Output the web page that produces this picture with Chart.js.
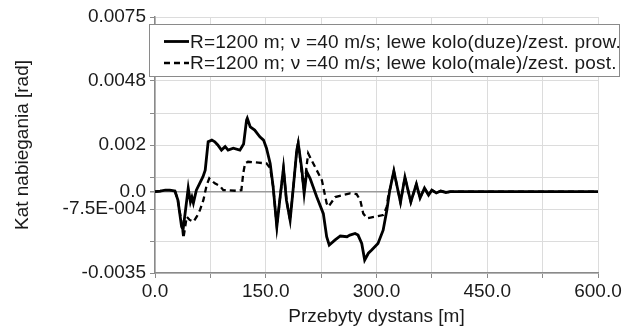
<!DOCTYPE html>
<html>
<head>
<meta charset="utf-8">
<script src="https://cdn.jsdelivr.net/npm/chart.js@4/dist/chart.umd.min.js"></script>
<style>
    html, body { margin: 0; padding: 0; background: #fff; }
    #wrap { width: 624px; height: 326px; }
</style>
</head>
<body>
<div id="wrap"><canvas id="chart" width="624" height="326"></canvas></div>
<script>
// data
x_solid = [0, 7, 14, 20, 27, 31, 36, 38, 43, 45, 48, 50, 52, 56, 65, 68, 72, 77, 81, 85,
    90, 95, 99, 106, 115, 120, 124, 125, 129, 135, 142, 147, 151, 156, 160, 162.5, 165, 169, 174, 178,
    183, 187, 192, 194, 199, 202, 205.5, 210, 219, 228, 232.5, 236, 244, 251, 260, 264, 271, 275, 280, 284,
    289, 293.5, 302, 309, 314, 318, 323.5, 332.5, 338.5, 346.5, 354, 359, 365, 370.5, 375, 381, 387, 394, 400, 600]
y_solid = [0, 0.00002, 0.00006, 0.00006, 0.00002, -0.00037, -0.00151, -0.00165, -0.00037, 0.00015,
    -0.00045, -0.00024, -0.00049, 0.00006, 0.00064, 0.00092, 0.00214, 0.00221, 0.00214, 0.00200,
    0.00178, 0.00193, 0.00178, 0.00186, 0.00178, 0.00204, 0.00307, 0.00315, 0.00278, 0.00264,
    0.00235, 0.00221, 0.00186, 0.00121, 0.00021, -0.00065, -0.00151, -0.00037, 0.00101, -0.00037,
    -0.00123, 0.00006, 0.00178, 0.00207, 0.00092, -0.00008, 0.00085, 0.00057, -0.00022, -0.00095,
    -0.00194, -0.00230, -0.00208, -0.00191, -0.00194, -0.00187, -0.00180, -0.00187, -0.00223, -0.00294,
    -0.00265, -0.00251, -0.00223, -0.00166, -0.00080, 0.00006, 0.00088, -0.00047, 0.00062, -0.00045,
    0.00032, -0.00028, 0.00015, -0.00015, 0.00006, -0.00006, 0.00002, -0.00004, 0, 0]

x_dashed = [0, 7, 14, 20, 27, 31, 36.5, 38.5, 43, 47, 52, 56.5, 61, 65.5, 70, 73.5,
    81, 88, 92.5, 99, 111, 117, 119.5, 122, 126, 140, 151, 156, 160, 162.5, 165, 169, 174, 178, 183, 187,
    192, 194, 199, 202, 205.5, 207.5, 212, 219, 226, 232.5, 235, 244, 255, 264, 273, 278, 282, 287, 298, 309,
    314, 316, 318, 323.5, 332.5, 338.5, 346.5, 354, 359, 365, 370.5, 375, 381, 387, 394, 400, 600]
y_dashed = [0, 0.00002, 0.00006, 0.00006, 0.00002, -0.00037,
    -0.00144, -0.00200, -0.00108, -0.00122, -0.00130, -0.00108, -0.00079, -0.00037, 0.00028, 0.00057,
    0.00035, 0.00024, 0.00006, 0.00006, 0.00003, 0.00006, 0.00078, 0.00121, 0.00128, 0.00124,
    0.00121, 0.00100, 0.00021, -0.00065, -0.00151, -0.00037, 0.00101, -0.00037, -0.00123, 0.00006,
    0.00178, 0.00212, 0.00071, 0.00006, 0.00114, 0.00164, 0.00135, 0.00092, 0.00049, -0.00051,
    -0.00065, -0.00024, -0.00015, -0.00008, -0.00011, -0.00037, -0.00094, -0.00115, -0.00108, -0.00101,
    -0.00065, -0.00015, 0.00006, 0.00088, -0.00047, 0.00062, -0.00045, 0.00032, -0.00028, 0.00015,
    -0.00015, 0.00006, -0.00006, 0.00002, -0.00004, 0, 0]

series_labels = [
    "R=1200 m; \u03bd =40 m/s; lewe kolo(duze)/zest. prow.",
    "R=1200 m; \u03bd =40 m/s; lewe kolo(male)/zest. post."
]

x_ticks = [0, 75, 150, 225, 300, 375, 450, 525, 600]
x_tick_labels = ["0.0", "", "150.0", "", "300.0", "", "450.0", "", "600.0"]
y_ticks = [-0.0035, -0.002125, -0.00075, 0, 0.000625, 0.002, 0.003375, 0.00475, 0.006125, 0.0075]
y_tick_labels = ["-0.0035", "", "-7.5E-004", "0.0", "", "0.002", "", "0.0048", "", "0.0075"]

x_title = "Przebyty dystans [m]"
y_title = "Kat nabiegania [rad]"

const FONT = "'Liberation Sans', Arial, sans-serif"
const TEXT = "#1a1a1a"

function to_points(xs, ys) {
    return xs.map((x, i) => ({x: x, y: ys[i]}));
}

// legend drawn as a framed box sitting over the plot
const box_legend = {
    id: "box_legend",
    afterDraw(chart) {
        let ctx = chart.ctx;
        ctx.save();
        ctx.fillStyle = "#fff";
        ctx.strokeStyle = "#8a8a8a";
        ctx.lineWidth = 1;
        ctx.fillRect(149, 24, 471, 53);
        ctx.strokeRect(149.5, 24.5, 470, 52);
        ctx.font = "19px " + FONT;
        ctx.letterSpacing = "0.2px";
        ctx.textBaseline = "middle";
        chart.data.datasets.forEach(function(ds, i) {
            let y = 41.5 + i * 21.5;
            ctx.beginPath();
            ctx.strokeStyle = ds.borderColor;
            ctx.lineWidth = ds.borderWidth;
            ctx.setLineDash(ds.borderDash || []);
            ctx.moveTo(164, y);
            ctx.lineTo(189, y);
            ctx.stroke();
            ctx.setLineDash([]);
            ctx.fillStyle = TEXT;
            ctx.fillText(ds.label, 190, y + 1);
        });
        ctx.restore();
    }
};

document.addEventListener("DOMContentLoaded", function() {
    new Chart(document.getElementById("chart").getContext("2d"), {
        type: "line",
        data: {
            datasets: [{
                label: series_labels[0],
                data: to_points(x_solid, y_solid),
                borderColor: "#000",
                borderWidth: 2.8,
                pointRadius: 0,
                tension: 0
            }, {
                label: series_labels[1],
                data: to_points(x_dashed, y_dashed),
                borderColor: "#000",
                borderWidth: 2.3,
                borderDash: [6, 4],
                pointRadius: 0,
                tension: 0
            }]
        },
        options: {
            responsive: false,
            maintainAspectRatio: false,
            animation: false,
            layout: { padding: { top: 17, right: 26, bottom: 0, left: 0 } },
            plugins: {
                legend: { display: false },
                tooltip: { enabled: false }
            },
            scales: {
                x: {
                    type: "linear",
                    min: 0,
                    max: 600,
                    afterBuildTicks: function(scale) {
                        scale.ticks = x_ticks.map(v => ({value: v}));
                    },
                    afterFit: function(scale) { scale.height = 53; },
                    ticks: {
                        autoSkip: false,
                        maxRotation: 0,
                        padding: 2,
                        color: TEXT,
                        font: { family: FONT, size: 19 },
                        callback: function(v) { return x_tick_labels[x_ticks.indexOf(v)]; }
                    },
                    grid: { color: "#dcdcdc", tickColor: "#8a8a8a", tickLength: 5 },
                    border: { color: "#8a8a8a", width: 1.5 },
                    title: {
                        display: true,
                        text: x_title,
                        color: TEXT,
                        font: { family: FONT, size: 19, lineHeight: 1 },
                        padding: { top: 0, bottom: 0 }
                    }
                },
                y: {
                    type: "linear",
                    min: -0.0035,
                    max: 0.0075,
                    afterBuildTicks: function(scale) {
                        scale.ticks = y_ticks.map(v => ({value: v}));
                    },
                    afterFit: function(scale) { scale.width = 155; },
                    ticks: {
                        autoSkip: false,
                        padding: 4,
                        color: TEXT,
                        font: { family: FONT, size: 19 },
                        callback: function(v) { return y_tick_labels[y_ticks.indexOf(v)]; }
                    },
                    grid: {
                        color: ctx => (ctx.tick && ctx.tick.value === 0) ? "#9a9a9a" : "#dcdcdc",
                        lineWidth: ctx => (ctx.tick && ctx.tick.value === 0) ? 1.5 : 1,
                        tickColor: "#8a8a8a",
                        tickLength: 5
                    },
                    border: { color: "#8a8a8a", width: 1.5 },
                    title: {
                        display: true,
                        text: y_title,
                        color: TEXT,
                        font: { family: FONT, size: 19, lineHeight: 1 },
                        padding: { top: 13.5, bottom: 0 }
                    }
                }
            }
        },
        plugins: [box_legend]
    });
});
</script>
</body>
</html>
